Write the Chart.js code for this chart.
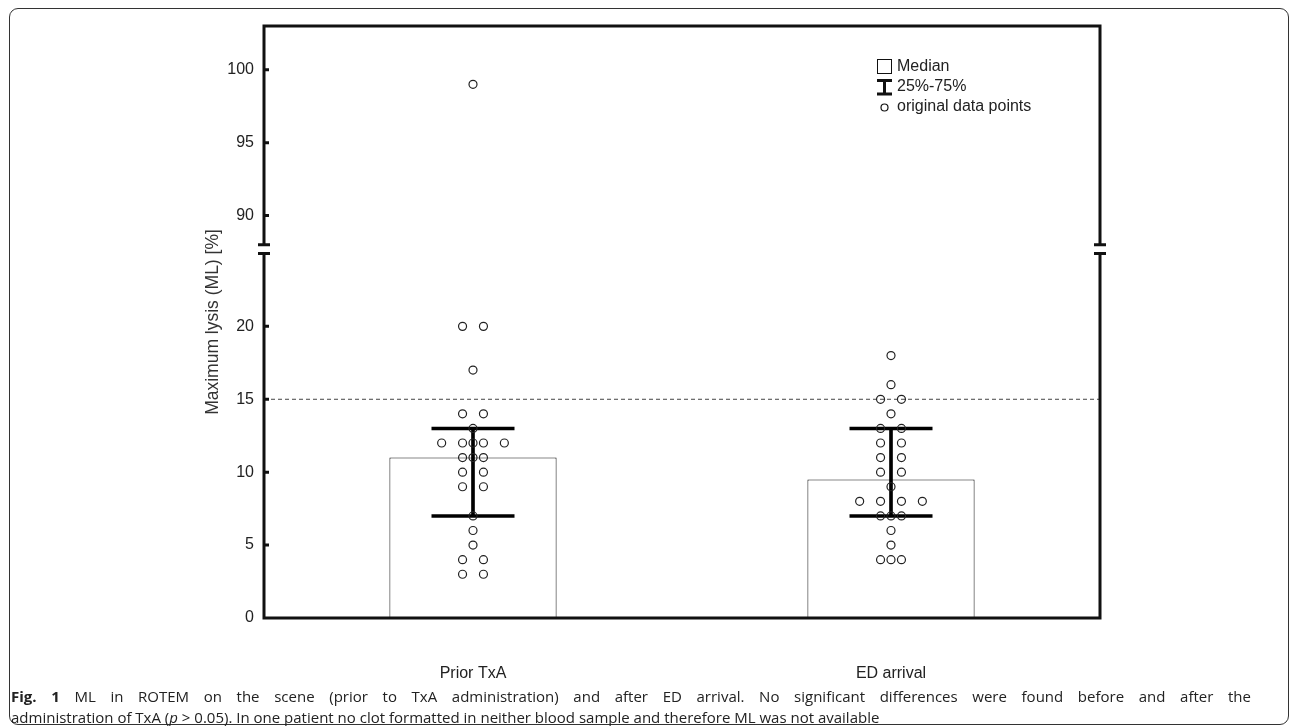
<!DOCTYPE html>
<html>
<head>
<meta charset="utf-8">
<script src="https://cdn.jsdelivr.net/npm/chart.js@4.4.1/dist/chart.umd.min.js"></script>
<style>
  html, body { margin: 0; padding: 0; background: #fff; }
  #wrap { position: relative; width: 1290px; height: 726px; overflow: hidden; }
  #frame {
    position: absolute; left: 9px; top: 8px; width: 1280px; height: 717px;
    border: 1.5px solid #333; border-radius: 9px; box-sizing: border-box;
  }
  #myChart { position: absolute; left: 0; top: 0; }
  #caption {
    position: absolute; left: 11px; top: 686px; width: 1240px;
    font-family: "Open Sans", sans-serif; font-size: 15px; line-height: 21px; color: #222;
  }
  #caption .l1 { text-align: justify; text-align-last: justify; white-space: nowrap; }
  #caption .l2 { white-space: nowrap; }
</style>
</head>
<body>
<div id="wrap">
  <div id="frame"></div>
  <canvas id="myChart" width="1290" height="726"></canvas>
  <div id="caption">
    <div class="l1"><b>Fig. 1</b> ML in ROTEM on the scene (prior to TxA administration) and after ED arrival. No significant differences were found before and after the</div>
    <div class="l2">administration of TxA (<i>p</i> &gt; 0.05). In one patient no clot formatted in neither blood sample and therefore ML was not available</div>
  </div>
</div>

<script>
  const categories = ["Prior TxA", "ED arrival"];
  const medians = [11, 9.5];
  const q25 = [7, 7];
  const q75 = [13, 13];

  // original data points, with the jitter column each one sits in (-3..3)
  const priorValues = [99, 20, 20, 17, 14, 14, 13, 12, 12, 12, 12, 12, 11, 11, 11, 10, 10, 9, 9, 7, 6, 5, 4, 4, 3, 3];
  const priorSlots = [0, -1, 1, 0, -1, 1, 0, -3, -1, 0, 1, 3, -1, 0, 1, -1, 1, -1, 1, 0, 0, 0, -1, 1, -1, 1];
  const edValues = [18, 16, 15, 15, 14, 13, 13, 12, 12, 11, 11, 10, 10, 9, 8, 8, 8, 8, 7, 7, 7, 6, 5, 4, 4, 4];
  const edSlots = [0, 0, -1, 1, 0, -1, 1, -1, 1, -1, 1, -1, 1, 0, -3, -1, 1, 3, -1, 0, 1, 0, 0, -1, 0, 1];

  const lowerTicks = [0, 5, 10, 15, 20];
  const upperTicks = [90, 95, 100];
  const lowerRange = [0, 25];
  const upperRange = [88, 103];
  const cutoff = 15;

  const slotWidth = 0.025;
  const breakGap = 0.6;
  const labelFont = "'Liberation Sans', Arial, sans-serif";

  // split points between the lower and upper part of the broken axis
  var lowerPts = [];
  var upperPts = [];
  [[priorValues, priorSlots], [edValues, edSlots]].forEach(function (grp, i) {
    grp[0].forEach(function (v, k) {
      var p = { x: i + grp[1][k] * slotWidth, y: v };
      if (v >= upperRange[0]) upperPts.push(p);
      else lowerPts.push(p);
    });
  });

  var caps = [];
  categories.forEach(function (c, i) {
    caps.push({ x: i, y: q25[i] });
    caps.push({ x: i, y: q75[i] });
  });

  const pointStyleOpts = {
    pointStyle: "circle",
    pointRadius: 4,
    pointBorderWidth: 1.2,
    borderColor: "#222",
    backgroundColor: "rgba(0,0,0,0)",
    pointBackgroundColor: "rgba(0,0,0,0)",
    pointBorderColor: "#222",
  };

  // y axes: fixed width, no label overflow padding
  function fitY(scale) {
    scale.width = 60;
    scale.paddingTop = 0;
    scale.paddingBottom = 0;
  }

  const decor = {
    id: "decor",
    beforeDatasetsDraw: function (chart) {
      var ctx = chart.ctx;
      var a = chart.chartArea;
      var y = chart.scales.y.getPixelForValue(cutoff);
      ctx.save();
      ctx.strokeStyle = "#444";
      ctx.lineWidth = 1;
      ctx.setLineDash([4, 3]);
      ctx.beginPath();
      ctx.moveTo(a.left, y);
      ctx.lineTo(a.right, y);
      ctx.stroke();
      ctx.restore();
    },
    afterDraw: function (chart) {
      var ctx = chart.ctx;
      var a = chart.chartArea;
      var yLow = chart.scales.y;
      var yUp = chart.scales.y2;
      var bLow = yLow.getPixelForValue(lowerRange[1]);
      var bUp = yUp.getPixelForValue(upperRange[0]);

      ctx.save();
      ctx.strokeStyle = "#111";
      ctx.lineWidth = 3;
      ctx.lineCap = "butt";
      ctx.beginPath();
      // top and bottom
      ctx.moveTo(a.left - 1.5, a.top);
      ctx.lineTo(a.right + 1.5, a.top);
      ctx.moveTo(a.left - 1.5, a.bottom);
      ctx.lineTo(a.right + 1.5, a.bottom);
      // left and right sides, broken
      [a.left, a.right].forEach(function (x) {
        ctx.moveTo(x, a.top);
        ctx.lineTo(x, bUp);
        ctx.moveTo(x, bLow);
        ctx.lineTo(x, a.bottom);
        ctx.moveTo(x - 6, bUp);
        ctx.lineTo(x + 6, bUp);
        ctx.moveTo(x - 6, bLow);
        ctx.lineTo(x + 6, bLow);
      });
      // inward tick marks
      lowerTicks.forEach(function (v) {
        var ty = yLow.getPixelForValue(v);
        ctx.moveTo(a.left, ty);
        ctx.lineTo(a.left + 5, ty);
      });
      upperTicks.forEach(function (v) {
        var ty = yUp.getPixelForValue(v);
        ctx.moveTo(a.left, ty);
        ctx.lineTo(a.left + 5, ty);
      });
      ctx.stroke();

      // y title
      ctx.fillStyle = "#333";
      ctx.font = "17.5px " + labelFont;
      ctx.textAlign = "center";
      ctx.textBaseline = "middle";
      ctx.translate(213, (a.top + a.bottom) / 2);
      ctx.rotate(-Math.PI / 2);
      ctx.fillText("Maximum lysis (ML) [%]", 0, 0);
      ctx.restore();

      // legend
      ctx.save();
      ctx.strokeStyle = "#111";
      ctx.fillStyle = "#222";
      ctx.lineWidth = 1;
      ctx.strokeRect(877.5, 59.5, 14, 14);
      ctx.lineWidth = 3;
      ctx.beginPath();
      ctx.moveTo(884.5, 80);
      ctx.lineTo(884.5, 94);
      ctx.moveTo(877, 80.5);
      ctx.lineTo(892, 80.5);
      ctx.moveTo(877, 94);
      ctx.lineTo(892, 94);
      ctx.stroke();
      ctx.lineWidth = 1.2;
      ctx.beginPath();
      ctx.arc(884.5, 107.5, 3.5, 0, Math.PI * 2);
      ctx.stroke();
      ctx.font = "16px " + labelFont;
      ctx.textAlign = "left";
      ctx.textBaseline = "middle";
      ctx.fillText("Median", 897, 67);
      ctx.fillText("25%-75%", 897, 87);
      ctx.fillText("original data points", 897, 107);
      ctx.restore();
    },
  };

  new Chart("myChart", {
    type: "bar",
    data: {
      datasets: [
        {
          type: "scatter",
          data: lowerPts,
          yAxisID: "y",
          order: 0,
          ...pointStyleOpts,
        },
        {
          type: "scatter",
          data: upperPts,
          yAxisID: "y2",
          order: 0,
          ...pointStyleOpts,
        },
        {
          type: "scatter",
          data: caps,
          yAxisID: "y",
          order: 1,
          pointStyle: "line",
          pointRadius: 41.5,
          pointBorderWidth: 3.5,
          borderColor: "#000",
          pointBorderColor: "#000",
        },
        {
          data: q25.map(function (v, i) { return { x: i, y: [v, q75[i]] }; }),
          yAxisID: "y",
          order: 2,
          grouped: false,
          barThickness: 3,
          backgroundColor: "#000",
          borderWidth: 0,
        },
        {
          data: medians.map(function (m, i) { return { x: i, y: m }; }),
          yAxisID: "y",
          order: 3,
          grouped: false,
          barPercentage: 0.4,
          categoryPercentage: 1,
          backgroundColor: "#fff",
          borderColor: "#111",
          borderWidth: 1,
        },
      ],
    },
    options: {
      responsive: false,
      animation: false,
      devicePixelRatio: 1,
      events: [],
      layout: {
        autoPadding: false, // the wide cap markers would otherwise push the plot down
        padding: { left: 204, right: 190, top: 26, bottom: 38 },
      },
      plugins: {
        legend: { display: false },
        tooltip: { enabled: false },
      },
      scales: {
        x: {
          type: "linear",
          offset: false,
          min: -0.5,
          max: 1.5,
          grid: { display: false, drawTicks: false },
          border: { display: false },
          afterBuildTicks: function (scale) {
            scale.ticks = categories.map(function (c, i) { return { value: i }; });
          },
          afterFit: function (scale) {
            scale.height = 70;
            scale.paddingLeft = 0;
            scale.paddingRight = 0;
          },
          ticks: {
            padding: 46,
            maxRotation: 0,
            autoSkip: false,
            color: "#222",
            font: { family: labelFont, size: 16 },
            callback: function (value) { return categories[value]; },
          },
        },
        y: {
          type: "linear",
          position: "left",
          stack: "ml",
          stackWeight: lowerRange[1] - lowerRange[0],
          min: lowerRange[0],
          max: lowerRange[1],
          grid: { display: false, drawTicks: false },
          border: { display: false },
          afterBuildTicks: function (scale) {
            scale.ticks = lowerTicks.map(function (v) { return { value: v }; });
          },
          afterFit: fitY,
          ticks: { padding: 10, color: "#222", font: { family: labelFont, size: 16 } },
        },
        y2: {
          type: "linear",
          position: "left",
          stack: "ml",
          stackWeight: upperRange[1] - upperRange[0] + breakGap,
          min: upperRange[0] - breakGap,
          max: upperRange[1],
          grid: { display: false, drawTicks: false },
          border: { display: false },
          afterBuildTicks: function (scale) {
            scale.ticks = upperTicks.map(function (v) { return { value: v }; });
          },
          afterFit: fitY,
          ticks: { padding: 10, color: "#222", font: { family: labelFont, size: 16 } },
        },
      },
    },
    plugins: [decor],
  });
</script>
</body>
</html>
